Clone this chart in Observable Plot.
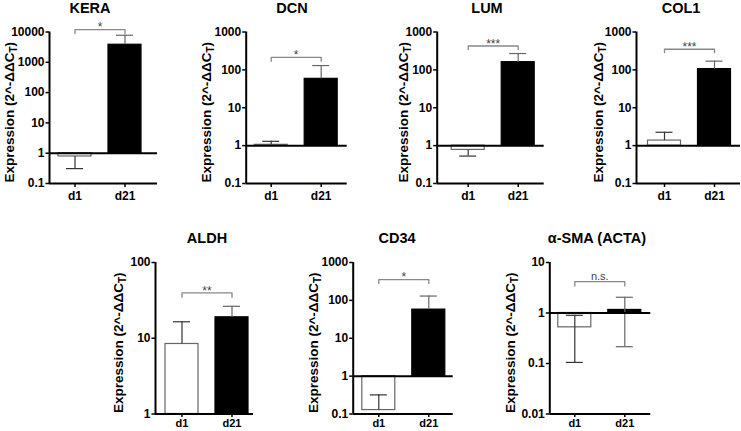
<!DOCTYPE html>
<html><head><meta charset="utf-8">
<script src="https://cdn.jsdelivr.net/npm/d3@7"></script>
<script src="https://cdn.jsdelivr.net/npm/@observablehq/plot@0.6"></script>
<style>
body{margin:0;background:#fff}
#chart{position:relative;width:741px;height:431px;overflow:hidden;background:#fff}
#chart svg{position:absolute;left:0;top:0}
</style></head><body><div id="chart"></div>
<script>
// ---- data ----
const genes = ["KERA", "DCN", "LUM", "COL1", "ALDH", "CD34", "α-SMA (ACTA)"];
const days = ["d1", "d21"];
const meanD1 = [0.78, 1.05, 0.77, 1.36, 8.4, 0.127, 0.52];
const meanD21 = [3800, 58, 160, 105, 18.9, 57, 1.15];
const errD1Low = [0.31, 1.05, 0.53, 1.36, 8.4, 0.127, 0.105];
const errD1High = [0.78, 1.3, 0.77, 2.25, 16.5, 0.32, 0.9];
const errD21Low = [3800, 58, 160, 105, 18.9, 57, 0.215];
const errD21High = [7800, 130, 270, 170, 26.4, 130, 2.05];
const sigLabels = ["*", "*", "***", "***", "**", "*", "n.s."];
const bracketTop = [12000, 214, 427, 350, 39.7, 354, 4.17];
const bracketFoot = [8900, 168, 343, 285, 34.8, 277, 3.42];
const yDomains = [[0.1, 10000], [0.1, 1000], [0.1, 1000], [0.1, 1000], [1, 100], [0.1, 1000], [0.01, 10]];
const yTicks = [
  [0.1, 1, 10, 100, 1000, 10000],
  [0.1, 1, 10, 100, 1000],
  [0.1, 1, 10, 100, 1000],
  [0.1, 1, 10, 100, 1000],
  [1, 10, 100],
  [0.1, 1, 10, 100, 1000],
  [0.01, 0.1, 1, 10]
];
const yLabelMain = "Expression (2^-ΔΔC";
const yLabelSub = "T";

// ---- layout (page pixels) ----
const W = 741, H = 431;
const axisX = [49, 245.7, 436.7, 636, 155, 352.7, 549.3];
const frameW = [108, 101, 107, 104, 98, 100, 101];
const d1Off = [25.5, 25, 31, 28, 26.5, 25.6, 25];
const rowTop = [31.5, 31.5, 31.5, 31.5, 262, 262, 262];
const rowBot = [183, 183, 183, 183, 413.5, 413.5, 413.5];
const titleX = [90, 292, 487, 681, 207, 397, 597];
const labelX = [14, 211, 408, 603, 123, 318, 514.5];
const STEP = 50; // px between d1 and d21 centres

const FONT = "'Liberation Sans', Arial, sans-serif";
const chart = document.getElementById("chart");

genes.forEach((gene, i) => {
  const rows = [
    {pos: 0, value: meanD1[i], lo: errD1Low[i], hi: errD1High[i], fill: "white", stroke: "#666", err: "#333"},
    {pos: 1, value: meanD21[i], lo: errD21Low[i], hi: errD21High[i], fill: "black", stroke: "black", err: "#666"}
  ];
  const caps = [];
  rows.forEach(r => {
    if (r.lo !== r.value) caps.push({pos: r.pos, y: r.lo, err: r.err});
    if (r.hi !== r.value) caps.push({pos: r.pos, y: r.hi, err: r.err});
  });
  const bracket = [
    {x: 0, y: bracketFoot[i]}, {x: 0, y: bracketTop[i]},
    {x: 1, y: bracketTop[i]}, {x: 1, y: bracketFoot[i]}
  ];
  const isStar = sigLabels[i] !== "n.s.";
  const bottomRow = i >= 4;
  const ax = axisX[i], fw = frameW[i];
  const xDom = [-d1Off[i] / STEP, (fw - d1Off[i]) / STEP];

  const svg = Plot.plot({
    width: W, height: H,
    marginLeft: ax, marginRight: W - ax - fw,
    marginTop: rowTop[i], marginBottom: H - rowBot[i],
    style: {background: "transparent", overflow: "visible", fontFamily: FONT},
    x: {domain: xDom},
    y: {type: "log", domain: yDomains[i]},
    color: {type: "identity"},
    marks: [
      Plot.rectY(rows, {x1: d => d.pos - 0.33, x2: d => d.pos + 0.33, y1: 1, y2: "value",
        fill: "fill", stroke: "stroke", strokeWidth: 1.2}),
      Plot.ruleX(rows, {x: "pos", y1: d => Math.min(d.lo, d.hi), y2: d => Math.max(d.lo, d.hi), stroke: "err", strokeWidth: 1.2}),
      Plot.ruleY(caps, {y: "y", x1: d => d.pos - 0.17, x2: d => d.pos + 0.17, stroke: "err", strokeWidth: 1.2}),
      Plot.ruleY([1], {stroke: "black", strokeWidth: 2}),
      Plot.ruleY([yDomains[i][0]], {stroke: "black", strokeWidth: 2}),
      Plot.ruleX([xDom[0]], {stroke: "black", strokeWidth: 2}),
      Plot.axisY({ticks: yTicks[i], tickFormat: d => String(d), tickSize: 3.5, tickPadding: 1.5,
        fontSize: 12, fontWeight: "bold", fontFamily: FONT, label: null, strokeWidth: 1.5}),
      Plot.axisX({ticks: [0, 1], tickFormat: k => days[k], tickSize: bottomRow ? 3.5 : 4, tickPadding: bottomRow ? 1.5 : 4,
        fontSize: bottomRow ? 11 : 12, fontWeight: "bold", fontFamily: FONT, label: null, strokeWidth: 1.5}),
      Plot.line(bracket, {x: "x", y: "y", stroke: "#888", strokeWidth: 1.3}),
      Plot.text([sigLabels[i]], {x: () => (rows[0].pos + rows[1].pos) / 2, y: () => bracketTop[i],
        text: d => d, dy: isStar ? -2 : -5, fontSize: isStar ? 12 : 11, fill: "#444", fontFamily: FONT})
    ]
  });

  const s = d3.select(svg);
  s.append("text")
    .attr("x", titleX[i]).attr("y", rowTop[i] - 19)
    .attr("text-anchor", "middle").attr("font-family", FONT)
    .attr("font-weight", "bold").attr("font-size", 14.5).attr("fill", "black")
    .text(gene);
  const lab = s.append("text")
    .attr("transform", `translate(${labelX[i]},${(rowTop[i] + rowBot[i]) / 2 + 5}) rotate(-90)`)
    .attr("text-anchor", "middle").attr("font-family", FONT)
    .attr("font-weight", "bold").attr("font-size", 13.5).attr("fill", "black");
  lab.append("tspan").text(yLabelMain);
  lab.append("tspan").attr("font-size", 10).attr("dy", 3).text(yLabelSub);
  lab.append("tspan").attr("dy", -3).text(")");
  chart.appendChild(svg);
});
</script>
</body></html>
